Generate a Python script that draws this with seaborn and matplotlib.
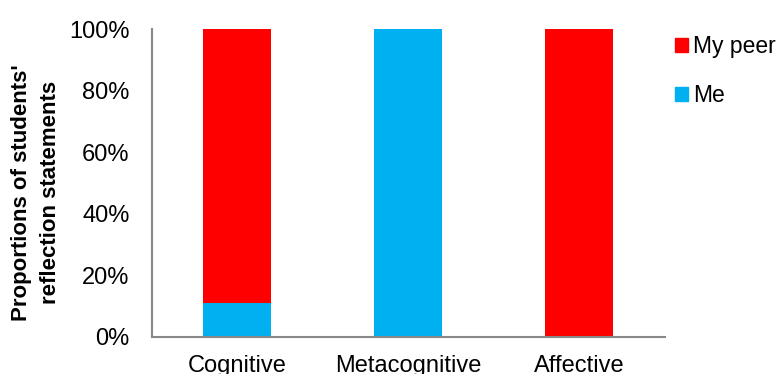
import matplotlib
matplotlib.use("Agg")
import matplotlib.pyplot as plt
import seaborn as sns
import pandas as pd
from matplotlib.patches import Patch
from matplotlib.ticker import PercentFormatter

categories = ["Cognitive", "Metacognitive", "Affective"]
me = [11.1, 100, 0]
my_peer = [88.9, 0, 100]

sns.set_style("white")
plt.rcParams["font.family"] = ["Liberation Sans", "DejaVu Sans"]
plt.rcParams["text.color"] = "black"
plt.rcParams["xtick.color"] = "black"
plt.rcParams["ytick.color"] = "black"
plt.rcParams["axes.labelcolor"] = "black"

df = pd.DataFrame({"category": categories, "me": me, "peer": my_peer})
df["total"] = df["me"] + df["peer"]

fig = plt.figure(figsize=(7.82, 3.74), dpi=100)
ax = fig.add_axes([0.194, 0.099, 0.656, 0.823])

sns.barplot(data=df, x="category", y="total", color="#ff0000", width=0.4,
            saturation=1, linewidth=0, ax=ax)
sns.barplot(data=df, x="category", y="me", color="#00b0f0", width=0.4,
            saturation=1, linewidth=0, ax=ax)

ax.set_ylim(0, 100)
ax.set_xlim(-0.5, 2.5)
ax.yaxis.set_major_formatter(PercentFormatter(decimals=0))
ax.set_yticks([0, 20, 40, 60, 80, 100])
ax.set_xticks([0, 1, 2])
ax.set_xticklabels(categories, fontsize=17)
ax.tick_params(axis="x", length=0, pad=13)
ax.set_xticks([-0.5, 0.5, 1.5, 2.5], minor=True)
ax.tick_params(axis="x", which="minor", length=5, color="#888888", width=1.2)
ax.tick_params(axis="y", length=5, color="#888888", labelcolor="black",
               width=1.2, labelsize=17, pad=11)
ax.set_xlabel("")
ax.set_ylabel("Proportions of students'\nreflection statements", fontsize=16,
              fontweight="bold", linespacing=1.5)
ax.yaxis.set_label_coords(-0.177, 0.468)
for s in ["top", "right"]:
    ax.spines[s].set_visible(False)
for s in ["left", "bottom"]:
    ax.spines[s].set_color("#888888")
    ax.spines[s].set_linewidth(1.5)

handles = [Patch(color="#ff0000", label="My peer"), Patch(color="#00b0f0", label="Me")]
fig.legend(handles=handles, loc="upper left", bbox_to_anchor=(0.837, 0.962),
           frameon=False, fontsize=16.5, handlelength=0.55, handleheight=0.55,
           handletextpad=0.25, labelspacing=1.15)

fig.savefig("out.png", dpi=100)
